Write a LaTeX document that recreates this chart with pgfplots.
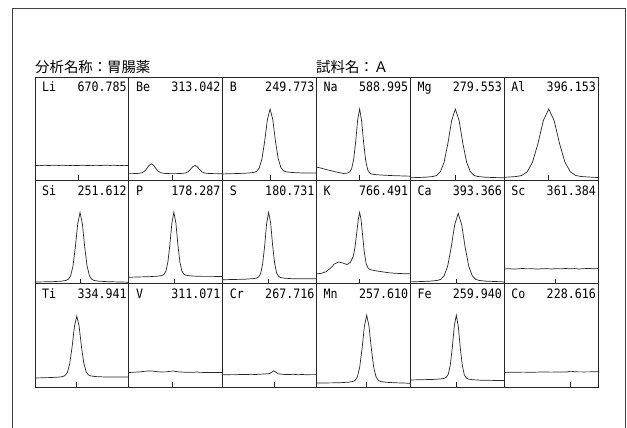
\documentclass[border=0pt]{standalone}
\usepackage{graphicx}
\usepackage{pgfplots}
\pgfplotsset{compat=1.18}
\usepackage{fontspec}
\newfontfamily\cjk{Noto Sans CJK JP}
\newfontfamily\monof{DejaVu Sans Mono}
\newcommand\lab[1]{\scalebox{0.97}[1.08]{\monof\fontsize{12}{12}\selectfont #1}}
\pgfplotsset{
  panel/.style={anchor=north west, scale only axis,
    width=93.833pt, height=103.333pt,
    xmin=-1, xmax=1, ymin=0, ymax=1,
    ytick=\empty, xticklabels={}, tick align=inside, xtick pos=bottom,
    major tick length=5pt,
    tick style={black!85, line width=0.6pt},
    axis line style={black!85, line width=0.8pt}}
}
\newcommand\panel[6]{%
\begin{axis}[panel, at={(#1pt,#2pt)}, xtick={#5}]
\addplot[black!85, line width=0.7pt, no marks] coordinates {#6};
\node[anchor=base west, inner sep=0pt, xshift=7pt, yshift=-15pt] at (rel axis cs:0,1) {\lab{#3}};
\node[anchor=base east, inner sep=0pt, xshift=-2pt, yshift=-15pt] at (rel axis cs:1,1) {\lab{#4}};
\end{axis}}
\begin{document}
\begin{tikzpicture}
\useasboundingbox (0pt,0pt) rectangle (627pt,-428pt);
\clip (0pt,0pt) rectangle (627pt,-428pt);
\draw[black!75, line width=0.8pt] (12pt,-440pt) -- (12pt,-8pt) -- (625pt,-8pt) -- (625pt,-440pt);
\node[anchor=base west, inner sep=0pt] at (35pt,-72.5pt) {\cjk\fontsize{14.4}{14.4}\selectfont 分析名称：胃腸薬};
\node[anchor=base west, inner sep=0pt] at (316pt,-72.5pt) {\cjk\fontsize{14.4}{14.4}\selectfont 試料名：Ａ};
% row 1
\panel{35}{-77}{Li}{670.785}{-0.07}{(-1,.145) (-.9,.142) (-.8,.146) (-.7,.143) (-.6,.147) (-.5,.144) (-.4,.146) (-.3,.142) (-.2,.145) (-.1,.143) (0,.146) (.1,.144) (.2,.142) (.3,.146) (.4,.143) (.5,.147) (.6,.144) (.7,.146) (.8,.142) (.9,.145) (1,.143)}
\panel{128.833}{-77}{Be}{313.042}{-0.07}{(-1,.064) (-.92,.065) (-.82,.066) (-.72,.073) (-.67,.086) (-.62,.112) (-.57,.144) (-.52,.16) (-.47,.144) (-.42,.112) (-.37,.086) (-.32,.073) (-.22,.066) (-.12,.065) (.01,.065) (.11,.066) (.21,.071) (.26,.082) (.31,.104) (.36,.131) (.41,.144) (.46,.131) (.51,.104) (.56,.082) (.61,.071) (.71,.066) (.81,.065) (1,.064)}
\panel{222.667}{-77}{B}{249.773}{0.01}{(-1,.062) (-.85,.064) (-.68,.066) (-.45,.0705) (-.335,.077) (-.278,.087) (-.22,.119) (-.163,.207) (-.105,.376) (-.048,.584) (.01,.69) (.068,.589) (.125,.38) (.183,.212) (.24,.124) (.298,.092) (.355,.082) (.47,.076) (.7,.071) (1,.07)}
\panel{316.5}{-77}{Na}{588.995}{-0.08}{(-1,.128) (-.9,.118) (-.8,.105) (-.7,.094) (-.6,.083) (-.5,.073) (-.42,.066) (-.335,.071) (-.293,.081) (-.25,.114) (-.208,.203) (-.165,.374) (-.123,.584) (-.08,.69) (-.038,.574) (.005,.364) (.048,.193) (.09,.104) (.133,.071) (.175,.061) (.26,.055) (.43,.05) (.6,.046) (.8,.043) (1,.04)}
\panel{410.333}{-77}{Mg}{279.553}{-0.04}{(-1,.025) (-.68,.030) (-.52,.037) (-.44,.047) (-.36,.082) (-.28,.176) (-.2,.356) (-.12,.578) (-.04,.69) (.04,.578) (.12,.356) (.2,.176) (.28,.082) (.36,.047) (.44,.037) (.6,.030) (.92,.025) (1,.024)}
\panel{504.167}{-77}{Al}{396.153}{-0.05}{(-1,.029) (-.97,.030) (-.74,.037) (-.625,.047) (-.51,.082) (-.395,.176) (-.28,.356) (-.165,.578) (-.05,.69) (.065,.578) (.18,.356) (.295,.176) (.41,.082) (.525,.047) (.64,.037) (.87,.030) (1,.027)}
% row 2
\panel{35}{-180.333}{Si}{251.612}{-0.04}{(-1,.016) (-.64,.019) (-.44,.024) (-.34,.031) (-.29,.042) (-.24,.077) (-.19,.171) (-.14,.353) (-.09,.577) (-.04,.69) (.01,.577) (.06,.353) (.11,.171) (.16,.077) (.21,.042) (.26,.031) (.36,.024) (.56,.019) (1,.014)}
\panel{128.833}{-180.333}{P}{178.287}{-0.04}{(-1,.062) (-.55,.068) (-.38,.073) (-.295,.079) (-.253,.089) (-.21,.121) (-.168,.208) (-.125,.377) (-.083,.584) (-.04,.69) (.003,.587) (.045,.38) (.088,.211) (.13,.124) (.173,.092) (.215,.082) (.3,.076) (.47,.071) (1,.07)}
\panel{222.667}{-180.333}{S}{180.731}{-0.02}{(-1,.038) (-.53,.043) (-.36,.048) (-.275,.054) (-.233,.065) (-.19,.099) (-.148,.19) (-.105,.365) (-.063,.581) (-.02,.69) (.023,.586) (.065,.37) (.108,.195) (.15,.104) (.193,.07) (.235,.059) (.32,.053) (.49,.048) (1,.047)}
\panel{316.5}{-180.333}{K}{766.491}{-0.08}{(-1,.095) (-.9,.1) (-.8,.115) (-.7,.15) (-.62,.19) (-.53,.21) (-.44,.2) (-.35,.185) (-.28,.205) (-.22,.26) (-.18,.35) (-.14,.5) (-.11,.62) (-.08,.69) (-.05,.62) (-.02,.48) (.02,.3) (.06,.19) (.1,.15) (.15,.135) (.25,.125) (.4,.115) (.55,.105) (.7,.1) (.85,.097) (1,.095)}
\panel{410.333}{-180.333}{Ca}{393.366}{-0.02}{(-1,.017) (-.88,.019) (-.58,.024) (-.43,.031) (-.355,.041) (-.28,.076) (-.205,.169) (-.13,.348) (-.055,.569) (.02,.68) (.095,.569) (.17,.348) (.245,.169) (.32,.076) (.395,.041) (.47,.031) (.62,.024) (.92,.019) (1,.016)}
\panel{504.167}{-180.333}{Sc}{361.384}{0.1}{(-1,.142) (-.9,.145) (-.8,.141) (-.7,.144) (-.6,.147) (-.5,.143) (-.4,.145) (-.3,.141) (-.2,.144) (-.1,.146) (0,.142) (.1,.145) (.2,.143) (.3,.147) (.4,.144) (.5,.146) (.6,.142) (.7,.145) (.8,.148) (.9,.144) (1,.146)}
% row 3
\panel{35}{-283.667}{Ti}{334.941}{-0.13}{(-1,.087) (-.71,.091) (-.51,.095) (-.41,.101) (-.36,.111) (-.31,.141) (-.26,.225) (-.21,.385) (-.16,.583) (-.11,.686) (-.06,.589) (-.01,.391) (.04,.231) (.09,.147) (.14,.117) (.19,.107) (.29,.101) (.49,.097) (1,.096)}
\panel{128.833}{-283.667}{V}{311.071}{-0.07}{(-1,.14) (-.9,.143) (-.8,.145) (-.7,.15) (-.6,.155) (-.5,.155) (-.4,.148) (-.3,.145) (-.2,.147) (-.12,.152) (-.06,.155) (0,.15) (.1,.145) (.2,.143) (.3,.142) (.4,.143) (.45,.146) (.5,.142) (.6,.141) (.7,.14) (.8,.141) (.9,.14) (1,.14)}
\panel{222.667}{-283.667}{Cr}{267.716}{0.09}{(-1,.12) (-.9,.118) (-.8,.12) (-.7,.119) (-.6,.122) (-.5,.12) (-.4,.123) (-.3,.121) (-.2,.124) (-.1,.126) (0,.13) (.05,.145) (.09,.157) (.13,.145) (.18,.128) (.3,.122) (.4,.12) (.5,.123) (.6,.119) (.7,.121) (.8,.118) (.9,.12) (1,.12)}
\panel{316.5}{-283.667}{Mn}{257.610}{0.07}{(-1,.038) (-.53,.041) (-.33,.046) (-.23,.053) (-.18,.063) (-.13,.097) (-.08,.189) (-.03,.367) (.02,.585) (.07,.695) (.12,.585) (.17,.367) (.22,.189) (.27,.097) (.32,.063) (.37,.053) (.47,.046) (.67,.041) (1,.036)}
\panel{410.333}{-283.667}{Fe}{259.940}{-0.02}{(-1,.068) (-.53,.073) (-.36,.078) (-.275,.084) (-.233,.094) (-.19,.126) (-.148,.214) (-.105,.383) (-.063,.591) (-.02,.695) (.023,.584) (.065,.376) (.108,.207) (.15,.119) (.193,.087) (.235,.077) (.32,.071) (.49,.066) (1,.062)}
\panel{504.167}{-283.667}{Co}{228.616}{0.42}{(-1,.14) (-.9,.143) (-.8,.142) (-.6,.144) (-.4,.143) (-.2,.145) (0,.144) (.2,.145) (.35,.146) (.4,.152) (.45,.151) (.5,.147) (.7,.146) (.9,.147) (1,.147)}
\end{tikzpicture}
\end{document}
